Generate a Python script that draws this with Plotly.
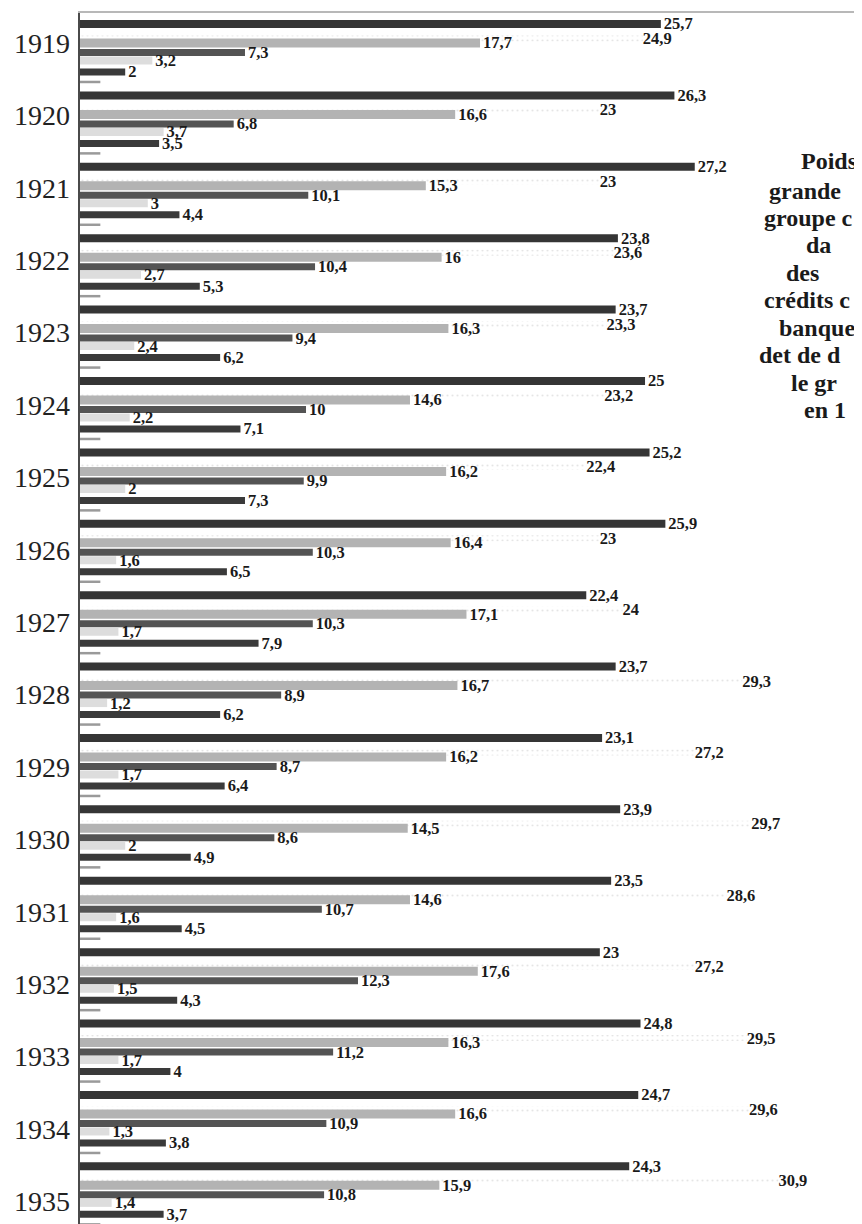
import plotly.graph_objects as go

years = [1919, 1920, 1921, 1922, 1923, 1924, 1925, 1926, 1927,
         1928, 1929, 1930, 1931, 1932, 1933, 1934, 1935]

serie_sombre = [25.7, 26.3, 27.2, 23.8, 23.7, 25, 25.2, 25.9, 22.4,
                23.7, 23.1, 23.9, 23.5, 23, 24.8, 24.7, 24.3]
serie_pale = [24.9, 23, 23, 23.6, 23.3, 23.2, 22.4, 23, 24,
              29.3, 27.2, 29.7, 28.6, 27.2, 29.5, 29.6, 30.9]
serie_grise = [17.7, 16.6, 15.3, 16, 16.3, 14.6, 16.2, 16.4, 17.1,
               16.7, 16.2, 14.5, 14.6, 17.6, 16.3, 16.6, 15.9]
serie_moyenne = [7.3, 6.8, 10.1, 10.4, 9.4, 10, 9.9, 10.3, 10.3,
                 8.9, 8.7, 8.6, 10.7, 12.3, 11.2, 10.9, 10.8]
serie_claire = [3.2, 3.7, 3, 2.7, 2.4, 2.2, 2, 1.6, 1.7,
                1.2, 1.7, 2, 1.6, 1.5, 1.7, 1.3, 1.4]
serie_foncee = [2, 3.5, 4.4, 5.3, 6.2, 7.1, 7.3, 6.5, 7.9,
                6.2, 6.4, 4.9, 4.5, 4.3, 4, 3.8, 3.7]
serie_trait = [0.9, 0.9, 0.9, 0.9, 0.9, 0.9, 0.9, 0.9, 0.9,
               0.9, 0.9, 0.9, 0.9, 0.9, 0.9, 0.9, 0.9]

side_text = ["Poids", "grande", "groupe c", "da", "des", "crédits c",
             "banque", "det de d", "le gr", "en 1"]


def fmt(v):
    if float(v).is_integer():
        return str(int(v))
    return f"{v:.1f}".replace(".", ",")


PX_PER_YEAR = 71.4
SERIF = "Liberation Serif"

# (values, color, pattern, center offset px, thickness px, label?)
specs = [
    (serie_sombre, "#353535", None, -29, 8, True),
    (serie_pale, "#ffffff", dict(shape=".", fgcolor="#cccccc", size=5, solidity=0.14), -14.5, 6, True),
    (serie_grise, "#b3b3b3", None, -10, 9, True),
    (serie_moyenne, "#545454", None, -0.5, 7, True),
    (serie_claire, "#dddddd", None, 7.5, 8, True),
    (serie_foncee, "#3a3a3a", None, 19, 7, True),
    (serie_trait, "#9a9a9a", None, 29, 2.5, False),
]

fig = go.Figure()
for vals, color, pattern, off, thick, lab in specs:
    marker = dict(color=color, line=dict(width=0))
    if pattern:
        marker["pattern"] = pattern
    fig.add_trace(go.Bar(
        x=vals, y=years, orientation="h",
        offset=(off - thick / 2) / PX_PER_YEAR,
        width=thick / PX_PER_YEAR,
        marker=marker,
        text=[fmt(v) for v in vals] if lab else None,
        textposition="outside" if lab else "none",
        textfont=dict(family=SERIF, size=16.5, color="#1a1a1a", weight="bold"),
        constraintext="none",
        cliponaxis=False,
        showlegend=False,
        hoverinfo="x+y",
    ))

# invisible trace carrying the year labels axis
fig.add_trace(go.Scatter(
    x=[0] * len(years), y=years, yaxis="y2", mode="markers",
    marker=dict(opacity=0), showlegend=False, hoverinfo="skip",
))

side_x = [799, 767, 762, 804, 784, 762, 777, 757, 789, 802]
side_y = [161, 191, 218, 245, 273, 300, 328, 355, 383, 410]
for t, sx, sy in zip(side_text, side_x, side_y):
    fig.add_annotation(
        text=t, xref="paper", yref="paper",
        x=(sx - 80) / 782, y=1 - (sy - 13) / 1211,
        xanchor="left", yanchor="middle", showarrow=False,
        font=dict(family=SERIF, size=24, color="#1a1a1a", weight="bold"),
    )

# page body adds an 8 px offset; figure is sized so the plot area sits at x 80-862, y 13-1224
fig.update_layout(
    width=854, height=1216,
    margin=dict(l=72, r=0, t=5, b=0),
    paper_bgcolor="white", plot_bgcolor="white",
    barmode="overlay",
    xaxis=dict(range=[0, 34.6], side="top", showline=True, linecolor="#b8b8b8",
               linewidth=2, showgrid=False, zeroline=False, showticklabels=False,
               ticks=""),
    yaxis=dict(range=[1935.401, 1918.440], showline=True, linecolor="#4a4a4a",
               linewidth=2, showgrid=False, zeroline=False, showticklabels=False,
               ticks=""),
    yaxis2=dict(range=[1935.313, 1918.586], overlaying="y", side="left",
                tickmode="array", tickvals=years, ticktext=[str(y) for y in years],
                tickfont=dict(family=SERIF, size=28, color="#222222"),
                showgrid=False, zeroline=False, showline=False, ticks="",
                ticklabelstandoff=9),
)

fig.write_html("out.html")
